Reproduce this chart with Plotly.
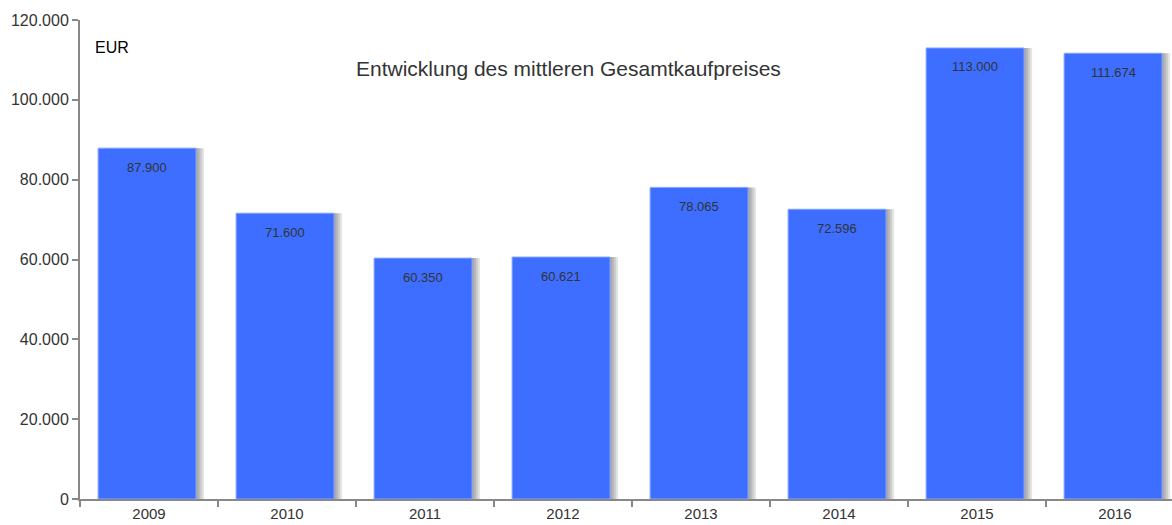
import plotly.graph_objects as go

years = ["2009", "2010", "2011", "2012", "2013", "2014", "2015", "2016"]
prices = [87900, 71600, 60350, 60621, 78065, 72596, 113000, 111674]
labels = ["87.900", "71.600", "60.350", "60.621", "78.065", "72.596", "113.000", "111.674"]
y_ticks = [0, 20000, 40000, 60000, 80000, 100000, 120000]
y_tick_labels = ["0", "20.000", "40.000", "60.000", "80.000", "100.000", "120.000"]

W = 0.71
OFF = -W / 2 - 0.014
fig = go.Figure()
# soft shadow layers
for sh in [0.058, 0.044, 0.03, 0.016]:
    fig.add_trace(go.Bar(x=years, y=prices, width=W, offset=OFF + sh,
                         marker=dict(color="rgba(40,40,40,0.12)", line=dict(width=0)),
                         hoverinfo="skip", showlegend=False))
fig.add_trace(go.Bar(x=years, y=prices, width=W, offset=OFF,
                     marker=dict(color="#3d6eff", line=dict(color="#8aa8ff", width=1)),
                     showlegend=False))

for i, (v, t) in enumerate(zip(prices, labels)):
    fig.add_annotation(x=i - 0.014, y=v, xref="x", yref="y", text=t, showarrow=False,
                       yshift=-19, yanchor="middle", font=dict(size=13, color="#333333"))

fig.add_annotation(xref="paper", yref="paper", x=0.012, y=0.942, text="EUR",
                   showarrow=False, xanchor="left", yanchor="middle",
                   font=dict(size=16, color="#000000"))
fig.add_annotation(xref="paper", yref="paper", x=0.447, y=0.898,
                   text="Entwicklung des mittleren Gesamtkaufpreises",
                   showarrow=False, xanchor="center", yanchor="middle",
                   font=dict(size=21, color="#333333"))

fig.update_layout(
    width=1172, height=525,
    margin=dict(l=80, r=0, t=20, b=26),
    barmode="overlay",
    plot_bgcolor="white", paper_bgcolor="white",
    font=dict(family="Liberation Sans, Arial, sans-serif", size=15, color="#333333"),
    separators=",.",
)
fig.update_xaxes(type="category", range=[-0.5, 7.413], showgrid=False, showline=True,
                 linecolor="#888888", linewidth=2, ticks="outside", tickson="boundaries",
                 ticklen=6, tickcolor="#888888", tickwidth=2,
                 tickfont=dict(size=15, color="#333333"))
fig.update_yaxes(range=[0, 120000], tickvals=y_ticks, ticktext=y_tick_labels,
                 showgrid=False, showline=True, linecolor="#888888", linewidth=2,
                 ticks="outside", ticklen=6, tickcolor="#888888", tickwidth=2,
                 zeroline=False, tickfont=dict(size=16, color="#333333"))

fig.write_html("out.html", config={"displayModeBar": False},
               post_script="document.body.style.margin='0';document.body.style.padding='0';")
